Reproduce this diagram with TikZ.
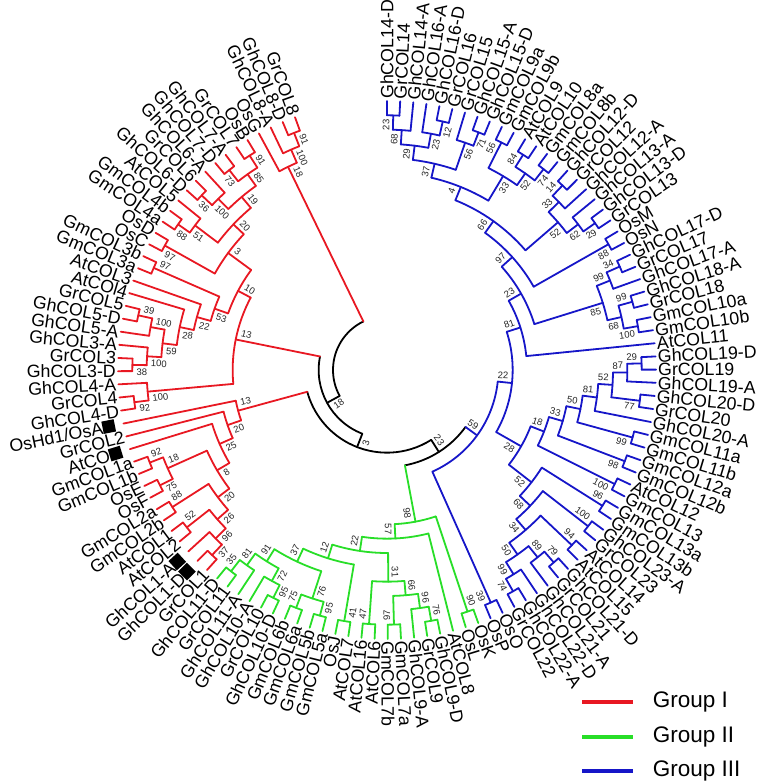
\documentclass[tikz,border=0pt]{standalone}
\usepackage{fontspec}
\setmainfont{Liberation Sans}
\definecolor{gI}{RGB}{232,24,34}
\definecolor{gII}{RGB}{40,222,40}
\definecolor{gIII}{RGB}{22,22,200}
\newcommand\dA{2.8099}
\newcommand\RL{269}
\newcommand\stp{14.333}
\newcommand\bsoff{7}
\newcommand\curcol{black}
\newcommand\lf[4][0]{%
  \pgfmathsetmacro\mytA{90-(#3-1)*\dA}%
  \expandafter\xdef\csname A@#2\endcsname{\mytA}%
  \expandafter\xdef\csname H@#2\endcsname{0}%
  \expandafter\xdef\csname C@#2\endcsname{\curcol}%
  \expandafter\gdef\csname B@#2\endcsname{}%
  \pgfmathsetmacro\mytR{\RL+2+#1}%
  \ifdim\mytA pt>-90pt
    \node[lbl,rotate=\mytA,anchor=west] (#2) at (\mytA:\mytR) {#4};%
  \else
    \pgfmathsetmacro\mytB{\mytA+180}%
    \node[lbl,rotate=\mytB,anchor=east] (#2) at (\mytA:\mytR) {#4};%
  \fi}
\newcommand\drawbs[4]{%
  \edef\mytxt{\csname B@#1\endcsname}%
  \ifx\mytxt\empty\else
    \pgfmathsetmacro\mybR{#3-4}%
    \pgfmathsetmacro\mybA{#2+#4*\bsoff*57.2958/\mybR}%
    \ifdim\mybA pt>-90pt
      \node[bs,rotate=\mybA,anchor=east] at (\mybA:\mybR) {\mytxt};%
    \else
      \pgfmathsetmacro\mybB{\mybA+180}%
      \node[bs,rotate=\mybB,anchor=west] at (\mybA:\mybR) {\mytxt};%
    \fi
  \fi}
\newcommand\nd[5]{%
  \edef\myaA{\csname A@#2\endcsname}\edef\myaB{\csname A@#3\endcsname}%
  \edef\myhA{\csname H@#2\endcsname}\edef\myhB{\csname H@#3\endcsname}%
  \edef\mycA{\csname C@#2\endcsname}\edef\mycB{\csname C@#3\endcsname}%
  \pgfmathsetmacro\myh{max(\myhA,\myhB)+1}%
  \pgfmathsetmacro\myr{\RL-\myh*\stp}%
  \pgfmathsetmacro\myrA{\RL-\myhA*\stp}%
  \pgfmathsetmacro\myrB{\RL-\myhB*\stp}%
  \pgfmathsetmacro\mym{(\myaA+\myaB)/2}%
  \expandafter\xdef\csname A@#1\endcsname{\mym}%
  \expandafter\xdef\csname H@#1\endcsname{\myh}%
  \expandafter\xdef\csname C@#1\endcsname{#4}%
  \expandafter\gdef\csname B@#1\endcsname{#5}%
  \coordinate (#1) at (\mym:\myr);
  \draw[br,color=#4] (\myaA:\myr) arc[start angle=\myaA,end angle=\myaB,radius=\myr];
  \draw[br,color=\mycA] (\myaA:\myr) -- (\myaA:\myrA);
  \draw[br,color=\mycB] (\myaB:\myr) -- (\myaB:\myrB);
  \drawbs{#2}{\myaA}{\myrA}{1}%
  \drawbs{#3}{\myaB}{\myrB}{-1}}
\begin{document}
\begin{tikzpicture}[x=1pt,y=1pt,
  br/.style={line width=1.8pt,line cap=round},
  lbl/.style={font=\fontsize{17.8}{18}\selectfont,inner sep=0pt},
  bs/.style={font=\fontsize{9.5}{9.5}\selectfont,inner sep=0pt,text=black!85},
  sq/.style={fill=black,minimum size=12.5pt,inner sep=0pt},
  legtxt/.style={black,font=\fontsize{22.5}{23}\selectfont,inner sep=0pt}]
\useasboundingbox (-387,-413) rectangle (371,370);
% ---------------- leaves
\renewcommand\curcol{gIII}
\lf{l1}{1}{GhCOL14-D}\lf{l2}{2}{GrCOL14}\lf{l3}{3}{GhCOL14-A}\lf{l4}{4}{GhCOL16-A}
\lf{l5}{5}{GhCOL16-D}\lf{l6}{6}{GrCOL16}\lf{l7}{7}{GrCOL15}\lf{l8}{8}{GhCOL15-A}
\lf{l9}{9}{GhCOL15-D}\lf{l10}{10}{GmCOL9a}\lf{l11}{11}{GmCOL9b}\lf{l12}{12}{AtCOL9}
\lf{l13}{13}{AtCOL10}\lf{l14}{14}{GmCOL8a}\lf{l15}{15}{GmCOL8b}\lf{l16}{16}{GhCOL12-D}
\lf{l17}{17}{GrCOL12}\lf{l18}{18}{GhCOL12-A}\lf{l19}{19}{GhCOL13-A}\lf{l20}{20}{GhCOL13-D}
\lf{l21}{21}{GrCOL13}\lf{l22}{22}{OsM}\lf{l23}{23}{OsN}\lf{l24}{24}{GhCOL17-D}
\lf{l25}{25}{GrCOL17}\lf{l26}{26}{GhCOL17-A}\lf{l27}{27}{GhCOL18-A}\lf{l28}{28}{GrCOL18}
\lf{l29}{29}{GmCOL10a}\lf{l30}{30}{GmCOL10b}\lf{l31}{31}{AtCOL11}\lf{l32}{32}{GhCOL19-D}
\lf{l33}{33}{GrCOL19}\lf{l34}{34}{GhCOL19-A}\lf{l35}{35}{GhCOL20-D}\lf{l36}{36}{GrCOL20}
\lf{l37}{37}{GhCOL20-A}\lf{l38}{38}{GmCOL11a}\lf{l39}{39}{GmCOL11b}\lf{l40}{40}{GmCOL12a}
\lf{l41}{41}{GmCOL12b}\lf{l42}{42}{AtCOL12}\lf{l43}{43}{GmCOL13}\lf{l44}{44}{GmCOL13a}
\lf{l45}{45}{GmCOL13b}\lf{l46}{46}{GhCOL23-A}\lf{l47}{47}{GrCOL23}\lf{l48}{48}{AtCOL14}
\lf{l49}{49}{AtCOL15}\lf{l50}{50}{GhCOL21-D}\lf{l51}{51}{GrCOL21}\lf{l52}{52}{GhCOL21-A}
\lf{l53}{53}{GhCOL22-D}\lf{l54}{54}{GhCOL22-A}\lf{l55}{55}{GrCOL22}\lf{l56}{56}{OsO}
\lf{l57}{57}{OsP}
\renewcommand\curcol{gII}
\lf{l58}{58}{OsK}\lf{l59}{59}{OsL}\lf{l60}{60}{AtCOL8}\lf{l61}{61}{GhCOL9-D}
\lf{l62}{62}{GrCOL9}\lf{l63}{63}{GhCOL9-A}\lf{l64}{64}{GmCOL7a}\lf{l65}{65}{GmCOL7b}
\lf{l66}{66}{AtCOL6}\lf{l67}{67}{AtCOL16}\lf{l68}{68}{AtCOL7}\lf{l69}{69}{OsJ}
\lf{l70}{70}{GmCOL5a}\lf{l71}{71}{GmCOL5b}\lf{l72}{72}{GmCOL6a}\lf{l73}{73}{GmCOL6b}
\lf{l74}{74}{GhCOL10-D}\lf{l75}{75}{GrCOL10}\lf{l76}{76}{GhCOL10-A}\lf{l77}{77}{GhCOL11-A}
\lf{l78}{78}{GrCOL11}\lf{l79}{79}{GhCOL11-D}
\renewcommand\curcol{gI}
\lf{l80}{80}{GrCOL1}\lf[19]{l81}{81}{GhCOL1-D}\lf[19]{l82}{82}{GhCOL1-A}\lf{l83}{83}{AtCOL2}
\lf{l84}{84}{AtCOL1}\lf{l85}{85}{GmCOL2b}\lf{l86}{86}{GmCOL2a}\lf{l87}{87}{OsF}
\lf{l88}{88}{OsE}\lf{l89}{89}{GmCOL1b}\lf{l90}{90}{GmCOL1a}\lf[19]{l91}{91}{AtCO}
\lf{l92}{92}{GrCOL2}\lf[19]{l93}{93}{OsHd1/OsA}\lf{l94}{94}{GhCOL4-D}\lf{l95}{95}{GrCOL4}
\lf{l96}{96}{GhCOL4-A}\lf{l97}{97}{GhCOL3-D}\lf{l98}{98}{GrCOL3}\lf{l99}{99}{GhCOL3-A}
\lf{l100}{100}{GhCOL5-A}\lf{l101}{101}{GhCOL5-D}\lf{l102}{102}{GrCOL5}\lf{l103}{103}{AtCOl4}
\lf{l104}{104}{AtCOL3}\lf{l105}{105}{GmCOL3a}\lf{l106}{106}{GmCOL3b}\lf{l107}{107}{OsC}
\lf{l108}{108}{OsD}\lf{l109}{109}{GmCOL4a}\lf{l110}{110}{GmCOL4b}\lf{l111}{111}{AtCOL5}
\lf{l112}{112}{GhCOL6-D}\lf{l113}{113}{GrCOL6}\lf{l114}{114}{GhCOL6-A}\lf{l115}{115}{GhCOL7-D}
\lf{l116}{116}{GhCOL7-A}\lf{l117}{117}{GrCOL7}\lf{l118}{118}{OsB}\lf{l119}{119}{OsG}
\lf{l120}{120}{GhCOL8-A}\lf{l121}{121}{GhCOL8-D}\lf{l122}{122}{GrCOL8}
% markers
\foreach \i in {81,82,91,93}{
  \pgfmathsetmacro\ma{90-(\i-1)*\dA}
  \node[sq,rotate=\ma] (m\i) at (\ma:284) {};}
% ---------------- Group III, upper
\nd{b1}{l1}{l2}{gIII}{23}
\nd{b2}{b1}{l3}{gIII}{68}
\nd{b3}{l5}{l6}{gIII}{12}
\nd{b4}{l4}{b3}{gIII}{23}
\nd{b5}{b2}{b4}{gIII}{29}
\nd{b6}{l8}{l9}{gIII}{71}
\nd{b7}{l7}{b6}{gIII}{56}
\nd{b8}{b5}{b7}{gIII}{37}
\nd{b9}{l10}{l11}{gIII}{56}
\nd{b10}{l12}{l13}{gIII}{84}
\nd{b11}{l14}{l15}{gIII}{74}
\nd{b12}{b10}{b11}{gIII}{52}
\nd{b13}{b9}{b12}{gIII}{33}
\nd{b14}{b8}{b13}{gIII}{4}
\nd{b15}{l16}{l17}{gIII}{14}
\nd{b16}{b15}{l18}{gIII}{33}
\nd{b17}{l20}{l21}{gIII}{29}
\nd{b18}{l19}{b17}{gIII}{62}
\nd{b19}{b16}{b18}{gIII}{52}
\nd{b20}{b14}{b19}{gIII}{66}
\nd{b21}{l22}{l23}{gIII}{88}
\nd{b22}{b20}{b21}{gIII}{97}
\nd{b23}{l24}{l25}{gIII}{34}
\nd{b24}{b23}{l26}{gIII}{99}
\nd{b25}{l27}{l28}{gIII}{99}
\nd{b26}{l29}{l30}{gIII}{100}
\nd{b27}{b25}{b26}{gIII}{68}
\nd{b28}{b24}{b27}{gIII}{85}
\nd{b29}{b22}{b28}{gIII}{23}
\nd{b30}{b29}{l31}{gIII}{81}
% ---------------- Group III, lower
\nd{c1}{l32}{l33}{gIII}{29}
\nd{c2}{c1}{l34}{gIII}{87}
\nd{c3}{l35}{l36}{gIII}{77}
\nd{c4}{c2}{c3}{gIII}{52}
\nd{c5}{c4}{l37}{gIII}{81}
\nd{c6}{l38}{l39}{gIII}{99}
\nd{c7}{c5}{c6}{gIII}{50}
\nd{c8}{l40}{l41}{gIII}{98}
\nd{c9}{c7}{c8}{gIII}{33}
\nd{c10}{l42}{l43}{gIII}{100}
\nd{c11}{c9}{c10}{gIII}{18}
\nd{c12}{l44}{l45}{gIII}{96}
\nd{c13}{l46}{l47}{gIII}{100}
\nd{c14}{l48}{l49}{gIII}{94}
\nd{c15}{l50}{l51}{gIII}{79}
\nd{c16}{c15}{l52}{gIII}{89}
\nd{c17}{l54}{l55}{gIII}{74}
\nd{c18}{l53}{c17}{gIII}{99}
\nd{c19}{c16}{c18}{gIII}{50}
\nd{c20}{c14}{c19}{gIII}{34}
\nd{c21}{c13}{c20}{gIII}{68}
\nd{c22}{c12}{c21}{gIII}{52}
\nd{c23}{c11}{c22}{gIII}{28}
\nd{c24}{b30}{c23}{gIII}{22}
\nd{c25}{l56}{l57}{gIII}{39}
\nd{bl}{c24}{c25}{gIII}{59}
% ---------------- Group II
\nd{g1}{l58}{l59}{gII}{90}
\nd{g2}{l61}{l62}{gII}{76}
\nd{g3}{g2}{l63}{gII}{96}
\nd{g4}{l64}{l65}{gII}{97}
\nd{g5}{g3}{g4}{gII}{66}
\nd{g6}{l66}{l67}{gII}{47}
\nd{g7}{g5}{g6}{gII}{31}
\nd{g8}{l68}{l69}{gII}{41}
\nd{g9}{l70}{l71}{gII}{95}
\nd{g10}{l72}{l73}{gII}{75}
\nd{g11}{g9}{g10}{gII}{76}
\nd{g12}{l74}{l75}{gII}{95}
\nd{g13}{g12}{l76}{gII}{72}
\nd{g14}{l78}{l79}{gII}{35}
\nd{g15}{l77}{g14}{gII}{81}
\nd{g16}{g13}{g15}{gII}{91}
\nd{g17}{g11}{g16}{gII}{37}
\nd{g18}{g8}{g17}{gII}{12}
\nd{g19}{g7}{g18}{gII}{22}
\nd{g20}{l60}{g19}{gII}{57}
\nd{gr}{g1}{g20}{gII}{98}
% ---------------- Group I, lower
\nd{r1}{l80}{l81}{gI}{37}
\nd{r2}{r1}{l82}{gI}{96}
\nd{r3}{l83}{l84}{gI}{52}
\nd{r4}{r2}{r3}{gI}{26}
\nd{r5}{l85}{l86}{gI}{88}
\nd{r6}{r4}{r5}{gI}{20}
\nd{r7}{l87}{l88}{gI}{75}
\nd{r8}{l89}{l90}{gI}{92}
\nd{r9}{r7}{r8}{gI}{18}
\nd{r10}{r6}{r9}{gI}{8}
\nd{r11}{r10}{l91}{gI}{25}
\nd{r12}{r11}{l92}{gI}{20}
\nd{rl}{r12}{l93}{gI}{13}
% ---------------- Group I, middle
\nd{m1}{l94}{l95}{gI}{92}
\nd{m2}{m1}{l96}{gI}{100}
\nd{m3}{l97}{l98}{gI}{38}
\nd{m4}{m3}{l99}{gI}{100}
\nd{m5}{l101}{l102}{gI}{39}
\nd{m6}{l100}{m5}{gI}{100}
\nd{m7}{m4}{m6}{gI}{59}
\nd{m8}{m7}{l103}{gI}{28}
\nd{m9}{m8}{l104}{gI}{22}
\nd{m10}{l105}{l106}{gI}{97}
\nd{m11}{m9}{m10}{gI}{53}
\nd{m12}{l107}{l108}{gI}{97}
\nd{m13}{l109}{l110}{gI}{88}
\nd{m14}{m13}{l111}{gI}{51}
\nd{m15}{l112}{l113}{gI}{36}
\nd{m16}{m15}{l114}{gI}{100}
\nd{m17}{l115}{l116}{gI}{73}
\nd{m18}{l117}{l118}{gI}{91}
\nd{m19}{m17}{m18}{gI}{85}
\nd{m20}{m16}{m19}{gI}{19}
\nd{m21}{m14}{m20}{gI}{20}
\nd{m22}{m12}{m21}{gI}{3}
\nd{m23}{m11}{m22}{gI}{10}
\nd{rm}{m2}{m23}{gI}{13}
% ---------------- Group I, top
\nd{t1}{l121}{l122}{gI}{91}
\nd{t2}{l120}{t1}{gI}{100}
\nd{rt}{l119}{t2}{gI}{18}
% ---------------- backbone
\nd{D}{bl}{gr}{black}{23}
\nd{C}{D}{rl}{black}{3}
\nd{B}{C}{rm}{black}{18}
\nd{A}{B}{rt}{black}{}
% ---------------- legend
\coordinate (k1a) at (195,-332); \coordinate (k1b) at (246,-332);
\coordinate (k2a) at (195,-367); \coordinate (k2b) at (246,-367);
\coordinate (k3a) at (195,-401); \coordinate (k3b) at (246,-401);
\draw[gI,line width=3.5pt] (k1a) -- (k1b) node[right=18pt,legtxt] (g1txt) {Group I};
\draw[gII,line width=3.5pt] (k2a) -- (k2b) node[right=18pt,legtxt] (g2txt) {Group II};
\draw[gIII,line width=3.5pt] (k3a) -- (k3b) node[right=18pt,legtxt] (g3txt) {Group III};
\end{tikzpicture}
\end{document}
